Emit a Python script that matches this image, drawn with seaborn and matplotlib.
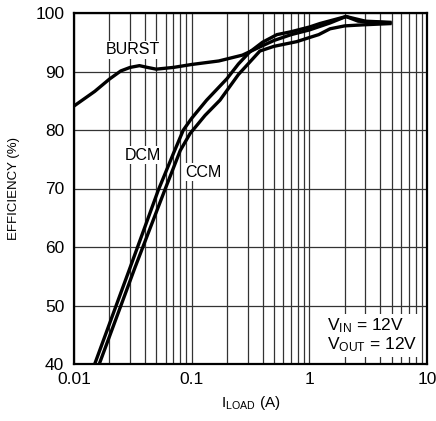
import numpy as np
import pandas as pd
import matplotlib
matplotlib.use("Agg")
import matplotlib.pyplot as plt
from matplotlib import font_manager
from matplotlib.ticker import LogLocator, FixedLocator, NullFormatter
import seaborn as sns

# Efficiency vs load current, VIN = VOUT = 12V
burst_i = [0.01, 0.015, 0.02, 0.025, 0.03, 0.036, 0.042, 0.05, 0.07, 0.1, 0.17, 0.27, 0.38, 0.5, 0.7, 1.0, 1.5, 2.05, 3.0, 5.0]
burst_eff = [84.1, 86.6, 88.7, 90.1, 90.7, 91.0, 90.7, 90.4, 90.7, 91.2, 91.8, 92.8, 94.2, 95.3, 96.3, 97.1, 98.3, 99.4, 98.6, 98.4]

dcm_i = [0.0150, 0.03, 0.052, 0.07, 0.085, 0.1, 0.134, 0.2, 0.25, 0.31, 0.4, 0.53, 0.7, 1.0, 1.23, 2.05, 2.6, 5.0]
dcm_eff = [40.0, 56.5, 69.7, 76.0, 80.0, 82.0, 85.1, 88.8, 91.3, 93.3, 95.0, 96.3, 96.8, 97.6, 98.2, 99.4, 98.6, 98.3]

ccm_i = [0.0164, 0.033, 0.059, 0.08, 0.097, 0.13, 0.174, 0.25, 0.38, 0.5, 0.78, 1.0, 1.2, 1.5, 2.0, 3.0, 5.0]
ccm_eff = [40.0, 56.5, 69.7, 76.5, 79.4, 82.5, 85.1, 89.5, 93.5, 94.3, 95.1, 95.8, 96.3, 97.3, 97.8, 98.0, 98.2]

x_ticks = [0.01, 0.1, 1, 10]
x_tick_labels = ["0.01", "0.1", "1", "10"]
y_ticks = [40, 50, 60, 70, 80, 90, 100]

curves = pd.concat([
    pd.DataFrame({"I": burst_i, "EFF": burst_eff, "mode": "BURST"}),
    pd.DataFrame({"I": dcm_i, "EFF": dcm_eff, "mode": "DCM"}),
    pd.DataFrame({"I": ccm_i, "EFF": ccm_eff, "mode": "CCM"}),
])

sns.set_style("white")
names = {f.name for f in font_manager.fontManager.ttflist}
main_font = "Liberation Sans Narrow" if "Liberation Sans Narrow" in names else "Liberation Sans"
plt.rcParams["font.family"] = [main_font, "DejaVu Sans"]
plt.rcParams["mathtext.fontset"] = "custom"
plt.rcParams["mathtext.rm"] = main_font
plt.rcParams["mathtext.it"] = main_font

fig = plt.figure(figsize=(4.36, 4.21), dpi=100)
ax = fig.add_axes([74 / 436, 57 / 421, 353 / 436, 351 / 421])

for mode in ["BURST", "DCM", "CCM"]:
    sns.lineplot(data=curves[curves["mode"] == mode], x="I", y="EFF", sort=False,
                 estimator=None, color="black", lw=2.4, ax=ax, legend=False,
                 solid_joinstyle="round", solid_capstyle="butt", zorder=3)

ax.set_xscale("log")
ax.set_xlim(0.01, 10)
ax.set_ylim(40, 100)
ax.xaxis.set_major_locator(FixedLocator(x_ticks))
ax.set_xticklabels(x_tick_labels)
ax.xaxis.set_minor_locator(LogLocator(base=10, subs=np.arange(2, 10)))
ax.xaxis.set_minor_formatter(NullFormatter())
ax.set_yticks(y_ticks)
ax.set_yticklabels([str(v) for v in y_ticks])

ax.grid(True, which="both", axis="x", color="#333333", lw=0.9)
ax.grid(True, which="major", axis="y", color="#333333", lw=0.9)
ax.set_axisbelow(True)
for s in ax.spines.values():
    s.set_color("black")
    s.set_linewidth(1.6)
ax.tick_params(which="both", length=0, labelsize=12.5, colors="black")
ax.tick_params(axis="x", pad=6)
ax.tick_params(axis="y", pad=7)

ax.set_xlabel(r"I$_{\mathrm{LOAD}}$ (A)", fontsize=11, labelpad=5, color="black")
ax.set_ylabel("EFFICIENCY (%)", fontsize=9.5, labelpad=11, color="black")

lab_kw = dict(fontsize=11.5, ha="center", va="center", color="black",
              bbox=dict(facecolor="white", edgecolor="none", pad=1.0), zorder=4)
ax.text(0.0317, 93.7, "BURST", **lab_kw)
ax.text(0.0386, 75.7, "DCM", **lab_kw)
ax.text(0.125, 72.8, "CCM", **lab_kw)

ax.text(1.40, 44.9, "V$_{\\mathrm{IN}}$ = 12V\nV$_{\\mathrm{OUT}}$ = 12V", fontsize=12.5,
        ha="left", va="center", color="black", linespacing=1.05,
        bbox=dict(facecolor="white", edgecolor="none", pad=2.0), zorder=4)

fig.savefig("out.png", dpi=100, facecolor="white")
